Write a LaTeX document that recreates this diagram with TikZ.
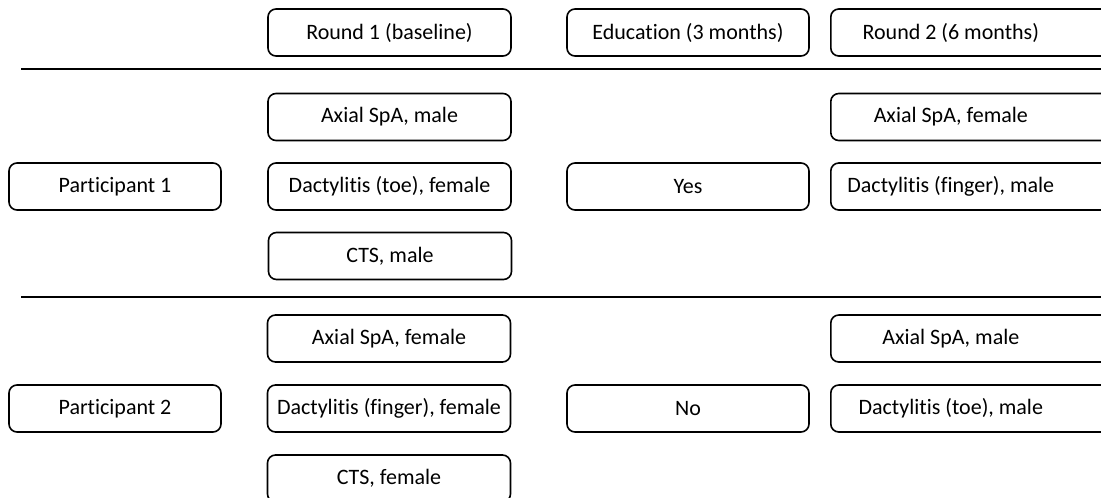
\documentclass[tikz,border=0pt]{standalone}
\usepackage{fontspec}
\setmainfont[RawFeature={-liga}]{Carlito}
\begin{document}
\begin{tikzpicture}[x=1pt,y=-1pt,
  box/.style={draw, rounded corners=8pt, line width=1.6pt, minimum height=47pt,
    inner sep=0pt, font=\fontsize{22}{26}\selectfont},
  rbox/.style={box, anchor=west, minimum width=300pt},
  sep/.style={line width=1.7pt}]
\useasboundingbox (0,0) rectangle (1101,498);
\clip (0,0) rectangle (1101,498);
\newcommand{\rtext}[1]{\makebox[240pt]{#1}\hspace*{60pt}}
% header
\node[box, minimum width=243pt] (r1h) at (389.5,32.5) {Round 1 (baseline)};
\node[box, minimum width=242pt] (edh) at (688,32.5) {Education (3 months)};
\node[rbox] (r2h) at (830,32.5) {\rtext{Round 2 (6 months)}};
\coordinate (l1a) at (21,69);
\coordinate (l1b) at (1110,69);
\draw[sep] (l1a) -- (l1b);
% participant 1
\node[box, minimum width=243pt] (ax1) at (389.5,117) {Axial SpA, male};
\node[box, minimum width=212pt] (p1) at (115,186.5) {Participant 1};
\node[box, minimum width=243pt] (dt1) at (389.5,186.5) {Dactylitis (toe), female};
\node[box, minimum width=243pt] (cts1) at (390,256) {CTS, male};
\node[box, minimum width=242pt] (yes) at (688,186.5) {Yes};
\node[rbox] (r2a1) at (830,117) {\rtext{Axial SpA, female}};
\node[rbox] (r2d1) at (830,186.5) {\rtext{Dactylitis (finger), male}};
\coordinate (l2a) at (21,297);
\coordinate (l2b) at (1110,297);
\draw[sep] (l2a) -- (l2b);
% participant 2
\node[box, minimum width=243pt] (ax2) at (389,338.5) {Axial SpA, female};
\node[box, minimum width=212pt] (p2) at (115,408.5) {Participant 2};
\node[box, minimum width=243pt] (dt2) at (389,408.5) {Dactylitis (finger), female};
\node[box, minimum width=243pt] (cts2) at (389,478.5) {CTS, female};
\node[box, minimum width=242pt] (no) at (688,408.5) {No};
\node[rbox] (r2a2) at (830,338.5) {\rtext{Axial SpA, male}};
\node[rbox] (r2d2) at (830,408.5) {\rtext{Dactylitis (toe), male}};
\end{tikzpicture}
\end{document}
